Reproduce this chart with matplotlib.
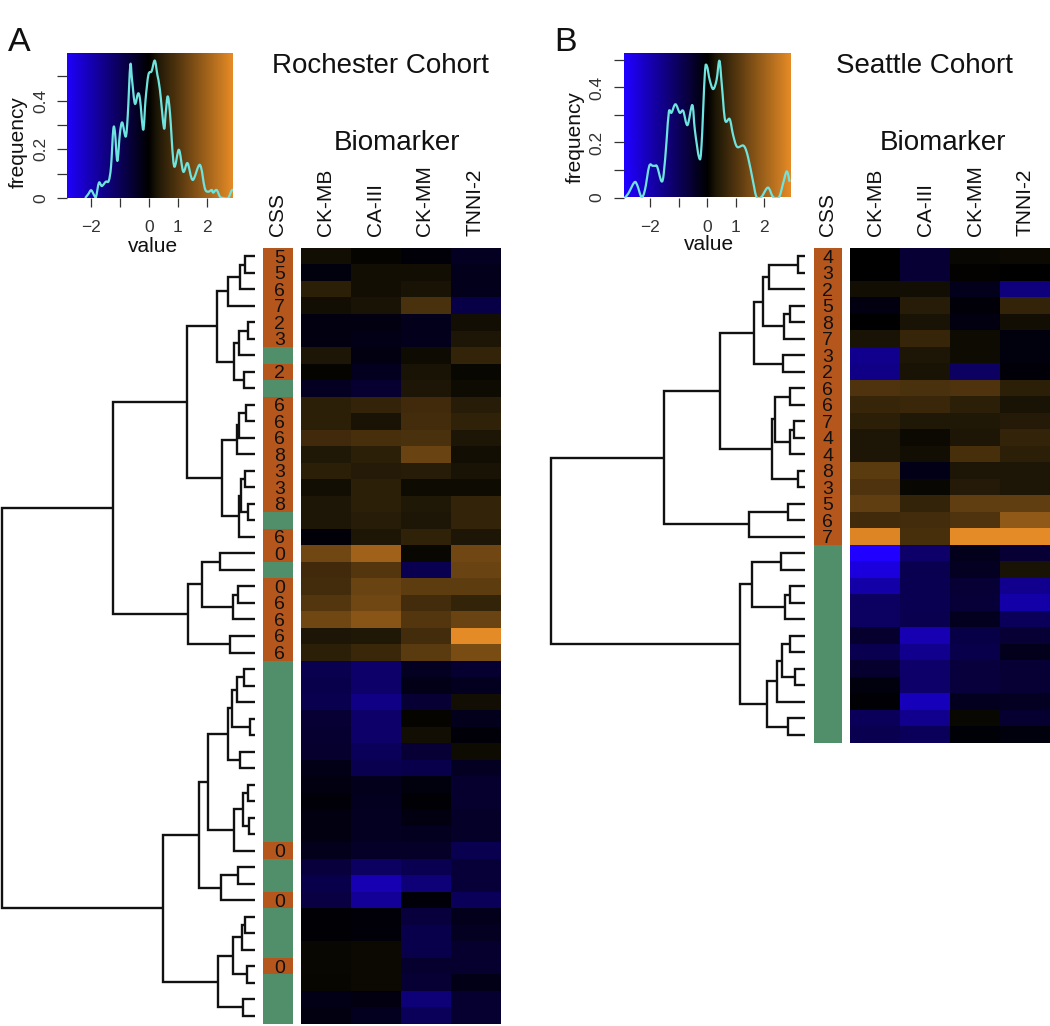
import numpy as np
import matplotlib
matplotlib.use("Agg")
import matplotlib.pyplot as plt
from matplotlib.colors import LinearSegmentedColormap
from matplotlib.path import Path
from matplotlib.patches import PathPatch

plt.rcParams['font.family'] = ['Liberation Sans', 'DejaVu Sans']

W, H = 1050, 1026
biomarkers = ['CK-MB', 'CA-III', 'CK-MM', 'TNNI-2']

css_a = ['5','5','6','7','2','3','','2','','6','6','6','8','3','3','8','','6','0','','0','6','6','6','6',
         '','','','','','','','','','','','0','','','0','','','','0','','','']
css_b = ['4','3','2','5','8','7','3','2','6','6','7','4','4','8','3','5','6','7',
         '','','','','','','','','','','','']

heat_a = [
 [0.2,0.05,-0.1,-0.4],[-0.15,0.2,0.2,-0.3],[0.5,0.2,0.25,-0.3],[0.2,0.25,0.9,-0.8],
 [-0.2,-0.2,-0.3,0.2],[-0.2,-0.25,-0.3,0.3],[0.3,-0.2,0.15,0.6],[0.05,-0.35,0.25,0.1],
 [-0.4,-0.55,0.3,0.15],[0.5,0.6,0.75,0.45],[0.5,0.25,0.8,0.55],[0.75,0.85,0.9,0.3],
 [0.35,0.5,1.3,0.2],[0.5,0.4,0.45,0.25],[0.2,0.5,0.15,0.15],[0.3,0.5,0.35,0.6],
 [0.3,0.45,0.3,0.6],[-0.1,0.3,0.55,0.3],[1.4,2.0,0.1,1.4],[0.75,1.0,-0.9,1.3],
 [0.8,1.3,1.15,1.15],[1.0,1.4,0.8,0.6],[1.4,1.7,1.0,1.3],[0.3,0.35,0.8,2.9],
 [0.5,0.7,1.1,1.5],[-0.9,-1.2,-0.4,-0.55],[-0.85,-1.2,-0.25,-0.35],[-0.9,-1.5,-0.6,0.2],
 [-0.6,-1.2,0.05,-0.3],[-0.55,-1.2,0.2,-0.1],[-0.5,-1.0,-0.6,0.15],[-0.25,-0.9,-0.85,-0.4],
 [-0.2,-0.3,-0.15,-0.5],[-0.1,-0.35,-0.05,-0.5],[-0.2,-0.4,-0.2,-0.45],[-0.2,-0.4,-0.35,-0.45],
 [-0.3,-0.45,-0.45,-0.9],[-0.7,-1.1,-0.95,-0.65],[-0.85,-2.0,-1.35,-0.65],[-0.75,-1.7,-0.1,-1.0],
 [-0.05,-0.1,-0.7,-0.3],[-0.05,-0.1,-0.85,-0.4],[0.1,0.12,-0.85,-0.5],[0.1,0.12,-0.5,-0.5],
 [0.08,0.12,-0.6,-0.25],[-0.25,-0.2,-1.35,-0.55],[-0.2,-0.35,-1.0,-0.55],
]
heat_b = [
 [0,-0.6,0.1,0.12],[0,-0.6,0.03,0.02],[0.2,0.2,-0.3,-1.4],[-0.2,0.45,-0.1,0.6],
 [0,0.25,-0.2,0.2],[0.25,0.65,0.15,-0.15],[-1.6,0.3,0.15,-0.15],[-1.5,0.25,-1.1,-0.1],
 [0.95,0.9,0.95,0.5],[0.65,0.7,0.5,0.25],[0.5,0.35,0.35,0.4],[0.3,0.12,0.3,0.6],
 [0.3,0.2,0.85,0.5],[1.1,-0.25,0.3,0.3],[0.95,0.1,0.4,0.3],[1.2,0.6,1.2,1.2],
 [0.75,0.8,0.95,1.8],[2.8,0.85,2.9,2.9],[-2.9,-1.2,-0.3,-0.6],[-2.5,-0.9,-0.4,0.25],
 [-1.9,-0.95,-0.6,-1.6],[-1.1,-0.95,-0.65,-1.9],[-1.1,-0.9,-0.35,-1.0],[-0.5,-2.0,-0.8,-0.6],
 [-0.9,-1.6,-0.85,-0.3],[-0.5,-1.2,-0.7,-0.6],[-0.15,-1.2,-0.7,-0.6],[-0.05,-2.1,-0.35,-0.4],
 [-1.0,-1.6,0.1,-0.55],[-0.9,-1.0,-0.08,-0.15],
]

# dendrograms: (height, left, right), leaves are row numbers
tree_a = (253,
  (142,
    (68,
      (38, (27, (15, (10, 0, 1), 2), 3),
           (21, (16, (7, 4, 5), 6), (11, 7, 8))),
      (33, (18, (16, (9, 9, 10), 11), 12),
           (16, (14, (10, 13, 14), (7, 15, 16)), 17))),
    (67,
      (53, (35, 18, 19), (22, (17, 20, 21), 22)),
      (25, 23, 24))),
  (92,
    (56,
      (47, (27, (23, (18, (11, 25, 26), 27), (5, 28, 29)), (15, 30, 31)),
           (21, (12, (7, 32, 33), (6, 34, 35)), 36)),
      (34, (17, 37, 38), 39)),
    (37,
      (22, (13, (10, 40, 41), 42), (8, 43, 44)),
      (12, 45, 46))))
tree_b = (254,
  (141,
    (85,
      (51, (42, (36, (7, 0, 1), 2), (21, (15, 3, 4), 5)), (22, 6, 7)),
      (33, (30, (15, 8, 9), (15, (11, 10, 11), 12)), (7, 13, 14))),
    (56, (17, 15, 16), 17)),
  (65,
    (53, (24, 18, 19), (20, (15, 20, 21), 22)),
    (38, (28, (23, (15, 23, 24), (10, 25, 26)), 27), (17, 28, 29))))

hist_a_x = [-2.22,-2.11,-2.01,-1.90,-1.84,-1.74,-1.64,-1.50,-1.40,-1.32,-1.24,-1.18,-1.10,-1.01,-0.93,-0.81,-0.74,-0.65,-0.59,-0.49,
            -0.38,-0.31,-0.20,-0.12,-0.02,0.09,0.20,0.29,0.38,0.52,0.58,0.65,0.73,0.87,1.04,1.19,1.34,1.52,1.77,1.94,2.06,2.18,2.23,2.35,2.47,2.58,2.75,2.87,2.93]
hist_a_y = [0,.016,.032,.01,.005,.063,.049,.067,.07,.129,.283,.266,.152,.266,.31,.252,.335,.545,.486,.387,
            .429,.403,.28,.403,.506,.52,.564,.506,.444,.287,.348,.417,.348,.132,.198,.108,.143,.074,.136,.04,.026,.033,.022,.033,.005,0,0,.03,.033]
hist_b_x = [-2.88,-2.76,-2.55,-2.45,-2.30,-2.18,-2.03,-1.91,-1.83,-1.75,-1.60,-1.52,-1.42,-1.34,-1.25,-1.11,-0.96,-0.84,-0.69,-0.52,-0.43,
            -0.28,-0.20,-0.08,-0.01,0.09,0.21,0.33,0.43,0.52,0.63,0.79,0.91,1.05,1.28,1.43,1.61,1.73,1.90,2.13,2.31,2.52,2.66,2.79,2.89]
hist_b_y = [0,.015,.055,.045,.002,.027,.114,.115,.115,.112,.059,.087,.208,.312,.308,.339,.308,.315,.263,.336,.245,
            .144,.184,.451,.478,.427,.394,.427,.497,.402,.281,.285,.227,.184,.188,.148,.057,.002,.002,.036,.002,.002,.051,.095,.057]

BLUE, ORANGE = '#2000ff', '#e48a26'
BROWN, GREEN = '#b5571c', '#518f6a'
cmap = LinearSegmentedColormap.from_list(
    'bko', [(0, BLUE), (0.5, '#000000'), (0.55, '#1c1606'), (1, ORANGE)])
VMAX = 2.9

fig = plt.figure(figsize=(W/100, H/100), dpi=100)

def axpx(x0, y0, x1, y1):
    return fig.add_axes([x0/W, 1-y1/H, (x1-x0)/W, (y1-y0)/H])

def tpx(x, y, s, **kw):
    fig.text(x/W, 1-y/H, s, **kw)

def smooth_patch(x, y, **kw):
    # a cubic path through the read points
    p = np.column_stack([x, y])
    verts, codes = [p[0]], [Path.MOVETO]
    for i in range(len(p)-1):
        a = p[max(i-1, 0)]; b = p[i]; c = p[i+1]; d = p[min(i+2, len(p)-1)]
        verts += [b + (c-a)/6, c - (d-b)/6, c]
        codes += [Path.CURVE4]*3
    return PathPatch(Path(verts, codes), fill=False, **kw)

def draw_tree(ax, node):
    if not isinstance(node, tuple):
        return node, 0
    h, l, r = node
    yl, hl = draw_tree(ax, l)
    yr, hr = draw_tree(ax, r)
    ax.plot([hl, h, h, hr], [yl, yl, yr, yr], color='#111111', lw=1.7,
            solid_joinstyle='miter', solid_capstyle='butt')
    return (yl+yr)/2, h

def panel(letter, lx, title, tx, bx, hist_box, hx, hy, xlim, ymax, yticks, flab, vlab,
          tree, tree_x0, tree_x1, css, css_x, css_tx, heat, heat_x, hm_bottom):
    tpx(lx, 51, letter, fontsize=24.5, ha='left', va='baseline', color='#111111')
    tpx(tx, 73, title, fontsize=20, ha='center', va='baseline', color='#111111')
    tpx(bx, 150, 'Biomarker', fontsize=20, ha='center', va='baseline', color='#111111')

    # colour key
    ax = axpx(*hist_box)
    x0, x1 = xlim
    ax.imshow(np.linspace(x0, x1, 256)[None, :], cmap=cmap, vmin=-VMAX, vmax=VMAX,
              extent=[x0, x1, 0, ymax], aspect='auto', interpolation='bilinear')
    ax.add_patch(smooth_patch(hx, hy, edgecolor='#6fe3de', lw=1.6, joinstyle='round'))
    ax.set_xlim(x0, x1); ax.set_ylim(0, ymax)
    for s in ax.spines.values():
        s.set_visible(False)
    ax.set_xticks([-2, -1, 0, 1, 2], ['\u22122', '', '0', '1', '2'], fontsize=12.5, color='#333333')
    ax.set_yticks(yticks, ['0', '', '0.2', '', '0.4', ''], fontsize=12.5, rotation=90,
                  va='center', color='#333333')
    ax.tick_params(axis='x', length=6.5, width=0.9, pad=9.5, color='#333333')
    ax.tick_params(axis='y', length=7, width=0.9, pad=6.5, color='#333333')
    tpx(flab[0], flab[1], 'frequency', fontsize=15, rotation=90, ha='center', va='center', color='#111111')
    tpx(vlab[0], vlab[1], 'value', fontsize=15, ha='center', va='baseline', color='#111111')

    n = len(css)
    ylim = (n-0.5, -0.5)
    # dendrogram
    ax = axpx(tree_x0, 248, tree_x1, hm_bottom)
    draw_tree(ax, tree)
    ax.set_xlim(tree_x1-tree_x0, 0); ax.set_ylim(*ylim); ax.axis('off')

    # CSS bar
    ax = axpx(css_x[0], 248, css_x[1], hm_bottom)
    for i, c in enumerate(css):
        ax.barh(i, 1, height=1, left=0, color=BROWN if c else GREEN, linewidth=0)
    for i, c in enumerate(css):
        if c:
            ax.text(css_tx, i, c, fontsize=14, ha='center', va='center_baseline',
                    color='#111111', clip_on=False)
    ax.set_xlim(0, 1); ax.set_ylim(*ylim)
    ax.xaxis.tick_top()
    ax.set_xticks([0.5], ['CSS'], rotation=90, fontsize=15, color='#111111')
    ax.set_yticks([])
    ax.tick_params(axis='x', length=0, pad=8.5)
    for s in ax.spines.values():
        s.set_visible(False)

    # heatmap
    ax = axpx(heat_x[0], 248, heat_x[1], hm_bottom)
    ax.imshow(np.array(heat), cmap=cmap, vmin=-VMAX, vmax=VMAX, aspect='auto', interpolation='nearest')
    ax.xaxis.tick_top()
    ax.set_xticks(range(4), biomarkers, rotation=90, fontsize=15, color='#111111')
    ax.set_yticks([])
    ax.tick_params(axis='x', length=0, pad=8.5)
    for s in ax.spines.values():
        s.set_visible(False)

panel('A', 8, 'Rochester Cohort', 380.5, 397, (67, 53, 233, 198), hist_a_x, hist_a_y, (-2.85, 2.92), 0.595,
      [0, .1, .2, .3, .4, .5], (18, 142), (153, 252),
      tree_a, 0, 255, css_a, (263, 293), 0.55, heat_a, (300.5, 499.5), 1024)
panel('B', 554, 'Seattle Cohort', 924.6, 942.5, (623.5, 52.5, 790.5, 197.5), hist_b_x, hist_b_y, (-2.93, 2.92), 0.527,
      [0, .1, .2, .3, .4, .5], (575, 137), (709, 250),
      tree_b, 540, 805, css_b, (813.5, 842), 0.5, heat_b, (850, 1050), 743)

fig.savefig('out.png', dpi=100)
